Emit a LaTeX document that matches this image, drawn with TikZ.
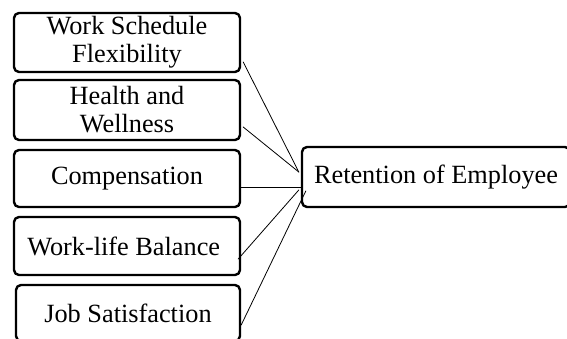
\documentclass[tikz,border=0pt]{standalone}
\usepackage{fontspec}
\setmainfont{Liberation Serif}
\begin{document}
\begin{tikzpicture}[x=1pt,y=-1pt,line join=round,line cap=round,
	factor/.style={draw,line width=2.4pt,rounded corners=5pt,minimum width=226pt,inner sep=1pt,align=center,font=\fontsize{26.3}{28}\selectfont},
	link/.style={line width=0.8pt}]
	\useasboundingbox (0,0) rectangle (567,338);
	\foreach \n/\y/\h/\t in {
		a/42.5/59/{Work Schedule\\Flexibility},
		b/110/60/{Health and\\Wellness},
		c/178.5/57/{Compensation},
		d/246/58/{Work-life Balance}
	}
	\node[factor,minimum height=\h pt] (\n) at (127,\y) {\t};
	\node[factor,minimum height=56pt,minimum width=224pt] (e) at (128,313) {Job Satisfaction};
	\node[factor,minimum height=60pt,minimum width=268pt] (r) at (436,177) {Retention of Employee};
	\draw[link] ([xshift=2pt,yshift=-19.5pt]a.east)--([xshift=-2pt,yshift=5pt]r.west);
	\draw[link] ([xshift=2pt,yshift=-17pt]b.east)--([xshift=-2pt,yshift=5pt]r.west);
	\draw[link] ([yshift=-8.5pt]c.east)--([yshift=-10pt]r.west);
	\draw[link] ([xshift=-3pt,yshift=-13pt]d.east)--([xshift=-2pt,yshift=-13pt]r.west);
	\draw[link] ([yshift=-12pt]e.east)--([xshift=5pt,yshift=-14pt]r.west);
\end{tikzpicture}
\end{document}
